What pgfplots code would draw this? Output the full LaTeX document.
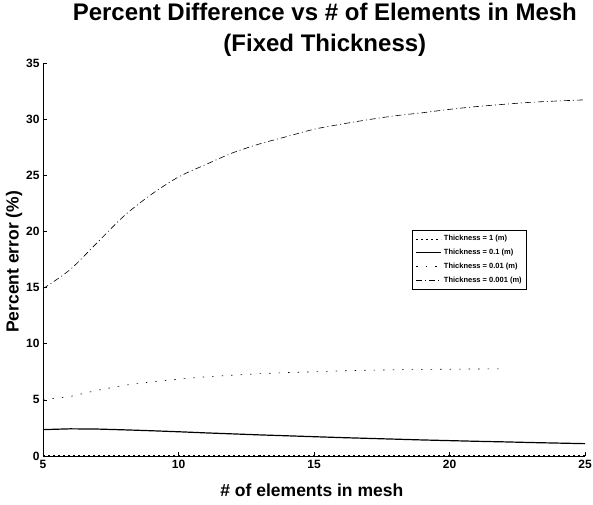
\documentclass[border=0pt]{standalone}
\usepackage{fontspec}
\setmainfont{Liberation Sans}
\usepackage{pgfplots}
\pgfplotsset{compat=1.18}
\begin{document}
\begin{tikzpicture}
\useasboundingbox (-43pt,-48pt) rectangle (550pt,456pt);
\begin{axis}[
  scale only axis, width=542pt, height=393pt,
  at={(0pt,0pt)}, anchor=south west,
  xmin=5, xmax=25, ymin=0, ymax=35,
  xtick={5,10,15,20,25}, ytick={0,5,...,35},
  axis x line=bottom, axis y line=left,
  axis line style={-, line width=0.9pt},
  tick align=inside, major tick length=4pt,
  tick style={line width=0.6pt, black},
  /pgf/number format/assume math mode=true,
  tick label style={font=\fontsize{12}{13}\selectfont\bfseries},
  xticklabel style={yshift=-1pt},
  title={Percent Difference vs \# of Elements in Mesh\\(Fixed Thickness)},
  title style={at={(axis description cs:0.52,1.069)}, anchor=center, align=center, font=\fontsize{24}{31}\selectfont\bfseries},
  xlabel={\# of elements in mesh},
  xlabel style={at={(axis description cs:0.496,-0.087)}, anchor=center, font=\fontsize{17.5}{19}\selectfont\bfseries},
  ylabel={Percent error (\%)},
  ylabel style={at={(axis description cs:-0.0535,0.494)}, anchor=center, rotate=0, font=\fontsize{17.5}{19}\selectfont\bfseries},
  legend style={at={(axis description cs:0.893,0.575)}, anchor=north east, draw=black, line width=0.6pt,
    font=\fontsize{7.5}{8}\selectfont\bfseries, inner sep=3pt, row sep=3pt, legend cell align=left},
  legend image code/.code={\draw[#1] (0pt,0pt) -- (25pt,0pt);},
]
\addplot[black, line width=0.5pt, dash pattern=on 2pt off 3pt] coordinates {
(5,0.05) (6,0.05) (7,0.05) (8,0.05) (9,0.05) (10,0.05) (11,0.05) (12,0.05) (13,0.05) (14,0.05) (15,0.05) (16,0.05) (17,0.05) (18,0.05) (19,0.05) (20,0.05) (21,0.05) (22,0.05) (23,0.05) (24,0.05) (25,0.05)};
\addlegendentry{Thickness = 1 (m)}
\addplot[black, line width=1.2pt] coordinates {
(5,2.35) (6,2.42) (7,2.40) (8,2.33) (9,2.25) (10,2.16) (11,2.06) (12,1.97) (13,1.88) (14,1.80) (15,1.72) (16,1.64) (17,1.57) (18,1.50) (19,1.43) (20,1.37) (21,1.31) (22,1.26) (23,1.20) (24,1.15) (25,1.10)};
\addlegendentry{Thickness = 0.1 (m)}
\addplot[black, line width=0.6pt, dash pattern=on 1.5pt off 8pt] coordinates {
(5,5.0) (6,5.3) (7,5.85) (8,6.3) (9,6.6) (10,6.85) (11,7.05) (12,7.2) (13,7.33) (14,7.43) (15,7.5) (16,7.58) (17,7.64) (18,7.68) (19,7.71) (20,7.73) (21,7.75) (22,7.76)};
\addlegendentry{Thickness = 0.01 (m)}
\addplot[black, line width=0.6pt, smooth, dash pattern=on 6pt off 3pt on 1pt off 3pt] coordinates {
(5,14.9) (6,16.6) (7,19.0) (8,21.4) (9,23.3) (10,24.85) (11,25.95) (12,27.0) (13,27.8) (14,28.45) (15,29.1) (16,29.55) (17,29.95) (18,30.3) (19,30.57) (20,30.87) (21,31.12) (22,31.32) (23,31.5) (24,31.62) (25,31.72)};
\addlegendentry{Thickness = 0.001 (m)}
\end{axis}
\end{tikzpicture}
\end{document}
